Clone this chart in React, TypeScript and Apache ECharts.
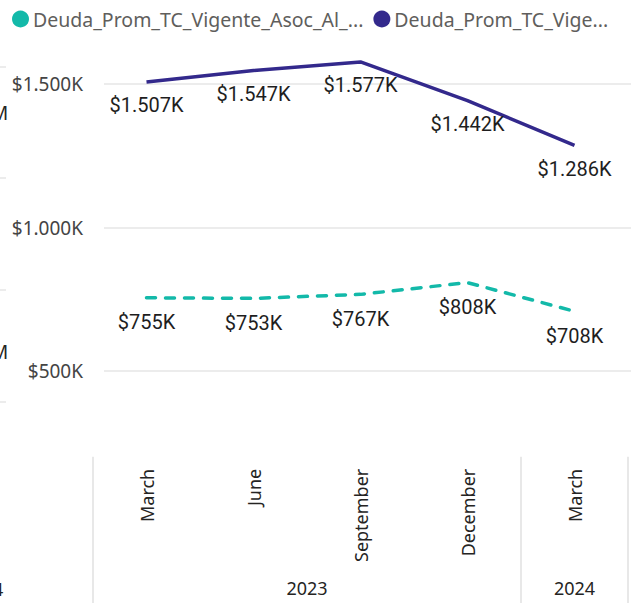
import React, { useEffect, useRef } from "react";
import * as echarts from "echarts";

const categories = ["March", "June", "September", "December", "March"];
const years = ["2023", "2023", "2023", "2023", "2024"];
const seriesNames = ["Deuda_Prom_TC_Vigente_Asoc_Al_...", "Deuda_Prom_TC_Vige..."];
const seriesColors = ["#13B9A9", "#33298C"];
const asocValues = [755, 753, 767, 808, 708]; // thousands
const vigenteValues = [1507, 1547, 1577, 1442, 1286]; // thousands
const yLabelTicks = [500, 1000, 1500];

const fmtK = (v: number) =>
  "$" + (v >= 1000 ? Math.floor(v / 1000) + "." + String(Math.round(v % 1000)).padStart(3, "0") : String(Math.round(v))) + "K";

function yearGroups() {
  const groups: { name: string; center: number }[] = [];
  let start = 0;
  for (let i = 1; i <= years.length; i++) {
    if (i === years.length || years[i] !== years[start]) {
      groups.push({ name: years[start], center: (start + i - 1) / 2 });
      start = i;
    }
  }
  return groups;
}

export default function App() {
  const ref = useRef<HTMLDivElement>(null);
  useEffect(() => {
    if (!ref.current) return;
    const chart = echarts.init(ref.current, undefined, { renderer: "svg" });
    const groups = yearGroups();
    const boundaries = new Set<number>();
    for (let i = 0; i < years.length; i++) if (i === 0 || years[i] !== years[i - 1]) boundaries.add(i);

    const gridTop = 12.25;
    const gridHeight = 430.5;
    const font = "'Segoe UI', 'Noto Sans', sans-serif";
    const labelFont = "Roboto, 'DejaVu Sans', sans-serif";

    const dataLabel = (distance: number) => ({
      show: true,
      position: "bottom",
      distance,
      fontSize: 20,
      fontFamily: labelFont,
      color: "#1E1E1E",
      formatter: (p: any) => fmtK(p.value),
    });

    chart.setOption({
      animation: false,
      backgroundColor: "#ffffff",
      legend: {
        left: 7,
        top: 4,
        width: 700,
        icon: "circle",
        itemWidth: 17,
        itemHeight: 17,
        itemGap: 10,
        textStyle: { color: "#605E5C", fontSize: 19.5, fontFamily: font, padding: [0, 0, 0, -1] },
        data: seriesNames.map((n, i) => ({ name: n, itemStyle: { color: seriesColors[i] } })),
      },
      grid: [
        { left: 93, width: 550, top: gridTop, height: gridHeight },
        { left: 104, width: 539, top: gridTop, height: gridHeight },
      ],
      xAxis: [
        {
          gridIndex: 0,
          type: "category",
          data: categories,
          position: "bottom",
          boundaryGap: true,
          axisLine: { show: false },
          axisTick: { show: false },
          axisLabel: {
            rotate: 90,
            interval: 0,
            margin: 26,
            fontSize: 18,
            color: "#252423",
            fontFamily: font,
          },
        },
        {
          gridIndex: 0,
          type: "value",
          min: -0.5,
          max: categories.length - 0.5,
          interval: 0.5,
          position: "bottom",
          axisLine: { show: false },
          axisTick: { show: false },
          splitLine: { show: false },
          axisLabel: {
            margin: 136,
            fontSize: 18,
            color: "#252423",
            fontFamily: font,
            formatter: (v: number) => {
              const g = groups.find((gg) => Math.abs(gg.center - v) < 1e-6);
              return g ? g.name : "";
            },
          },
        },
        {
          gridIndex: 0,
          type: "category",
          data: categories,
          position: "bottom",
          offset: 14,
          boundaryGap: true,
          axisLine: { show: false },
          axisLabel: { show: false },
          axisTick: {
            show: true,
            interval: (index: number) => boundaries.has(index),
            length: 150,
            lineStyle: { color: "#E1E1E1", width: 1.5 },
          },
        },
        {
          gridIndex: 1,
          type: "category",
          data: categories,
          show: false,
        },
      ],
      yAxis: [
        {
          gridIndex: 0,
          type: "value",
          min: 250,
          max: 1750,
          interval: 250,
          axisLine: { show: false },
          axisTick: { show: false },
          splitLine: { show: false },
          axisLabel: {
            margin: 10,
            fontSize: 19,
            color: "#444444",
            fontFamily: font,
            formatter: (v: number) => (yLabelTicks.includes(v) ? fmtK(v) : ""),
          },
        },
        {
          gridIndex: 1,
          type: "value",
          min: 250,
          max: 1750,
          interval: 250,
          axisLine: { show: false },
          axisTick: { show: false },
          axisLabel: { show: false },
          splitLine: {
            show: true,
            lineStyle: { color: ["rgba(0,0,0,0)", "#E6E6E6"], width: 1.5 },
          },
        },
      ],
      series: [
        {
          name: seriesNames[0],
          type: "line",
          xAxisIndex: 0,
          yAxisIndex: 0,
          data: asocValues,
          color: seriesColors[0],
          showSymbol: true,
          symbol: "circle",
          symbolSize: 1,
          itemStyle: { color: "rgba(0,0,0,0)", borderWidth: 0 },
          lineStyle: { width: 3.5, type: [9, 10], cap: "round", color: seriesColors[0] },
          label: dataLabel(14),
          z: 3,
        },
        {
          name: seriesNames[1],
          type: "line",
          xAxisIndex: 0,
          yAxisIndex: 0,
          data: vigenteValues,
          color: seriesColors[1],
          showSymbol: true,
          symbol: "circle",
          symbolSize: 1,
          itemStyle: { color: "rgba(0,0,0,0)", borderWidth: 0 },
          lineStyle: { width: 3.5, color: seriesColors[1] },
          label: dataLabel(13),
          z: 3,
        },
      ],
      graphic: [
        { type: "text", left: -9, top: 103, style: { text: "M", fontSize: 19, fill: "#252423", fontFamily: font } },
        { type: "text", left: -9, top: 342, style: { text: "M", fontSize: 19, fill: "#252423", fontFamily: font } },
        { type: "text", left: -7, top: 580, style: { text: "4", fontSize: 18, fill: "#252423", fontFamily: font } },
        { type: "line", shape: { x1: 0, y1: 67, x2: 6, y2: 67 }, style: { stroke: "#E6E6E6", lineWidth: 1.5 } },
        { type: "line", shape: { x1: 0, y1: 178, x2: 6, y2: 178 }, style: { stroke: "#E6E6E6", lineWidth: 1.5 } },
        { type: "line", shape: { x1: 0, y1: 290, x2: 6, y2: 290 }, style: { stroke: "#E6E6E6", lineWidth: 1.5 } },
        { type: "line", shape: { x1: 0, y1: 402, x2: 6, y2: 402 }, style: { stroke: "#E6E6E6", lineWidth: 1.5 } },
      ],
    });
    return () => chart.dispose();
  }, []);
  return (
    <div
      ref={ref}
      style={{ position: "fixed", left: 0, top: 0, width: 631, height: 603, overflow: "hidden" }}
    />
  );
}
